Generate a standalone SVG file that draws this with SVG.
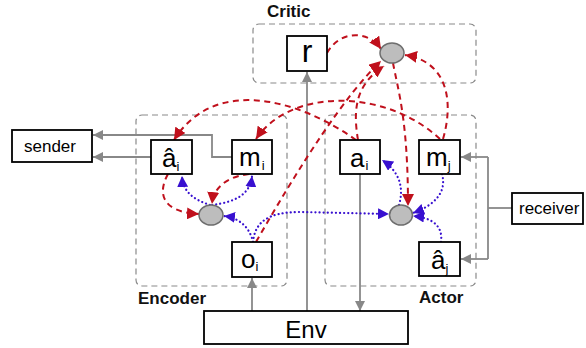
<svg xmlns="http://www.w3.org/2000/svg" width="586" height="348" viewBox="0 0 586 348">
  <style>
    .frame { fill: none; stroke: #8a8a8a; stroke-width: 1.2; stroke-dasharray: 6 4; }
    .box { fill: #ffffff; stroke: #000000; stroke-width: 1.8; }
    .dot { fill: #bdbdbd; stroke: #6e6e6e; stroke-width: 1.5; }
    .lbl { font-family: "Liberation Sans", Arial, sans-serif; fill: #000; }
    .grp { font-family: "Liberation Sans", Arial, sans-serif; font-size: 17px; font-weight: bold; fill: #111; }
    .sym { font-family: "Liberation Sans", Arial, sans-serif; font-size: 26px; fill: #000; }
    .sub { font-size: 13px; }
    .gray { fill: none; stroke: #888888; stroke-width: 1.8; marker-end: url(#ahGray); }
    .grayl { fill: none; stroke: #888888; stroke-width: 1.8; }
    .red { fill: none; stroke: #c0101c; stroke-width: 2; stroke-dasharray: 6 4.5; marker-end: url(#ahRed); }
    .blue { fill: none; stroke: #3810d0; stroke-width: 2.2; stroke-dasharray: 0.1 4; stroke-linecap: round; marker-end: url(#ahBlue); }
  </style>
  <defs>
    <marker id="ahGray" markerUnits="userSpaceOnUse" markerWidth="10" markerHeight="10" refX="10" refY="5" orient="auto">
      <path d="M0,0 L10,5 L0,10 z" fill="#888888"/>
    </marker>
    <marker id="ahRed" markerUnits="userSpaceOnUse" markerWidth="13" markerHeight="12" refX="12" refY="6" orient="auto">
      <path d="M0,0 L12,6 L0,12 z" fill="#c0101c"/>
    </marker>
    <marker id="ahBlue" markerUnits="userSpaceOnUse" markerWidth="12" markerHeight="11" refX="11" refY="5.5" orient="auto">
      <path d="M0,0 L11,5.5 L0,11 z" fill="#3810d0"/>
    </marker>
  </defs>

  <rect width="586" height="348" fill="#ffffff"/>

  <!-- module frames -->
  <g id="critic-frame">
    <rect class="frame" x="253" y="24" width="223" height="59" rx="6"/>
    <text class="grp" x="267" y="17">Critic</text>
  </g>
  <g id="encoder-frame">
    <rect class="frame" x="136" y="115" width="151" height="171" rx="6"/>
    <text class="grp" x="138" y="304">Encoder</text>
  </g>
  <g id="actor-frame">
    <rect class="frame" x="325" y="115" width="151" height="171" rx="6"/>
    <text class="grp" x="419" y="303">Actor</text>
  </g>

  <!-- connectors -->
  <g id="connectors">
    <!-- grey data flow -->
    <path class="gray" d="M252,311 L252,278"/>
    <path class="gray" d="M307,311 L307,72"/>
    <path class="gray" d="M360,174 L360,311"/>
    <path class="gray" d="M151,157 L93,157"/>
    <path class="gray" d="M232,157 L212,157 L212,135 L93,135"/>
    <path class="grayl" d="M512,208 L488,208"/>
    <path class="grayl" d="M488,157 L488,259"/>
    <path class="gray" d="M488,157 L461,157"/>
    <path class="gray" d="M488,259 L461,259"/>

    <!-- red dashed gradient paths -->
    <path class="red" d="M327,53 C340,30 368,30 381,49"/>
    <path class="red" d="M256,242 C300,165 345,95 381,61"/>
    <path class="red" d="M358,140 C353,110 355,85 384,66"/>
    <path class="red" d="M443,139 C453,105 450,62 405,55"/>
    <path class="red" d="M393,63 C398,90 408,120 408,206"/>
    <path class="red" d="M440,139 C385,88 290,88 256,139"/>
    <path class="red" d="M356,140 C300,100 215,75 174,140"/>
    <path class="red" d="M249,174 C232,176 214,184 212,204"/>
    <path class="red" d="M168,174 C158,192 160,212 199,214"/>

    <!-- blue dotted message paths -->
    <path class="blue" d="M210,205 C195,200 183,193 182,176"/>
    <path class="blue" d="M212,205 C235,202 250,195 252,176"/>
    <path class="blue" d="M253,242 C250,228 240,218 224,216"/>
    <path class="blue" d="M253,242 C255,222 268,212 300,212 L389,214"/>
    <path class="blue" d="M399,205 C404,188 400,172 382,160"/>
    <path class="blue" d="M442,174 C447,192 435,205 413,213"/>
    <path class="blue" d="M441,242 C443,228 435,218 413,216"/>
  </g>

  <!-- nodes -->
  <g id="sender">
    <rect class="box" x="12" y="130" width="80" height="32"/>
    <text class="lbl" x="50" y="152" font-size="17" text-anchor="middle">sender</text>
  </g>
  <g id="receiver">
    <rect class="box" x="512" y="193" width="71" height="31"/>
    <text class="lbl" x="519" y="214" font-size="17">receiver</text>
  </g>
  <g id="r">
    <rect class="box" x="287" y="36" width="40" height="35"/>
    <text class="lbl" x="307" y="62" font-size="32" text-anchor="middle">r</text>
  </g>
  <g id="critic-merge">
    <ellipse class="dot" cx="392" cy="53" rx="12" ry="10"/>
  </g>
  <g id="a-hat-i">
    <rect class="box" x="151" y="140" width="41" height="34"/>
    <text class="sym" x="162" y="167">â<tspan class="sub" dy="4">i</tspan></text>
  </g>
  <g id="m-i">
    <rect class="box" x="232" y="140" width="40" height="34"/>
    <text class="sym" x="239" y="166">m<tspan class="sub" dx="1" dy="4">i</tspan></text>
  </g>
  <g id="encoder-merge">
    <ellipse class="dot" cx="211" cy="215" rx="12" ry="10"/>
  </g>
  <g id="o-i">
    <rect class="box" x="232" y="242" width="40" height="35"/>
    <text class="sym" x="241" y="268">o<tspan class="sub" dy="3">i</tspan></text>
  </g>
  <g id="a-i">
    <rect class="box" x="340" y="140" width="40" height="34"/>
    <text class="sym" x="350" y="167">a<tspan class="sub" dx="1" dy="3">i</tspan></text>
  </g>
  <g id="m-j">
    <rect class="box" x="419" y="140" width="41" height="34"/>
    <text class="sym" x="426" y="166">m<tspan class="sub" dy="4">j</tspan></text>
  </g>
  <g id="actor-merge">
    <ellipse class="dot" cx="401" cy="215" rx="11.5" ry="10"/>
  </g>
  <g id="a-hat-j">
    <rect class="box" x="419" y="242" width="41" height="34"/>
    <text class="sym" x="431" y="269">â<tspan class="sub" dy="4">j</tspan></text>
  </g>
  <g id="env">
    <rect class="box" x="204" y="311" width="204" height="33"/>
    <text class="lbl" x="306" y="338" font-size="24" text-anchor="middle">Env</text>
  </g>
</svg>
